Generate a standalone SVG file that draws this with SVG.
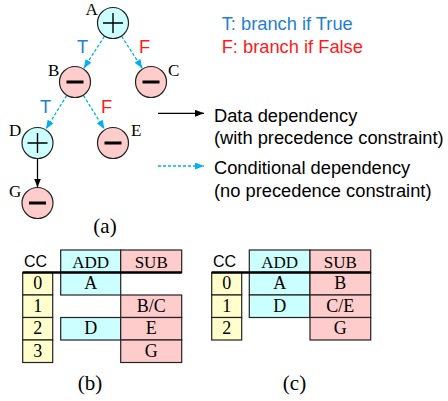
<svg xmlns="http://www.w3.org/2000/svg" width="448" height="401" viewBox="0 0 448 401">
  <style>
    .add { fill: #ccffff; stroke: #222; stroke-width: 1.2; }
    .sub { fill: #ffcccc; stroke: #222; stroke-width: 1.2; }
    .cc { fill: #ffffcc; stroke: #222; stroke-width: 1.2; }
    .sign { stroke: #000; stroke-width: 1.4; fill: none; }
    .bar { fill: #000; }
    .lbl { font-family: "Liberation Serif", "Times New Roman", serif; font-size: 17px; fill: #000; }
    .cap { font-family: "Liberation Serif", "Times New Roman", serif; font-size: 21px; fill: #000; text-anchor: middle; }
    .cell { font-family: "Liberation Serif", "Times New Roman", serif; font-size: 18px; fill: #000; text-anchor: middle; }
    .head { font-size: 17px; }
    .sans { font-family: "Liberation Sans", Arial, sans-serif; font-size: 18.3px; }
    .t { fill: #1f7fd0; }
    .f { fill: #ff1a1a; }
    .data { stroke: #000; stroke-width: 1.3; fill: none; }
    .cond { stroke: #00b0f0; stroke-width: 1.3; stroke-dasharray: 3 2; fill: none; }
    .thick { stroke: #000; stroke-width: 2.6; }
  </style>
  <defs>
    <marker id="headData" markerUnits="userSpaceOnUse" markerWidth="9" markerHeight="7" refX="9" refY="3.5" orient="auto">
      <path d="M0,0 L9,3.5 L0,7 Z" fill="#000"/>
    </marker>
    <marker id="headCond" markerUnits="userSpaceOnUse" markerWidth="9" markerHeight="7" refX="9" refY="3.5" orient="auto">
      <path d="M0,0 L9,3.5 L0,7 Z" fill="#00b0f0"/>
    </marker>
  </defs>

  <!-- (a) dependency graph -->
  <g id="connectors">
    <line class="cond" x1="104.3" y1="36.4" x2="83.7" y2="68.4" marker-end="url(#headCond)"/>
    <line class="cond" x1="121.7" y1="36.4" x2="142.3" y2="68.4" marker-end="url(#headCond)"/>
    <line class="cond" x1="66.6" y1="95.6" x2="45.9" y2="129.2" marker-end="url(#headCond)"/>
    <line class="cond" x1="83.5" y1="95.6" x2="104.5" y2="129.2" marker-end="url(#headCond)"/>
    <line class="data" x1="37.5" y1="158" x2="37.5" y2="187.5" marker-end="url(#headData)"/>
    <text class="sans t" x="77" y="53">T</text>
    <text class="sans f" x="139" y="53">F</text>
    <text class="sans t" x="40" y="113">T</text>
    <text class="sans f" x="101" y="113">F</text>
  </g>

  <g id="nodeA">
    <circle class="add" cx="113" cy="23" r="15.5"/>
    <path class="sign" d="M103,23 H123 M113,13 V33"/>
    <text class="lbl" x="85.5" y="15">A</text>
  </g>
  <g id="nodeB">
    <circle class="sub" cx="75" cy="82" r="15.5"/>
    <rect class="bar" x="66.5" y="80.5" width="17" height="3"/>
    <text class="lbl" x="48" y="76">B</text>
  </g>
  <g id="nodeC">
    <circle class="sub" cx="151" cy="82" r="15.5"/>
    <rect class="bar" x="142.5" y="80.5" width="17" height="3"/>
    <text class="lbl" x="168" y="76">C</text>
  </g>
  <g id="nodeD">
    <circle class="add" cx="37.5" cy="143" r="15.5"/>
    <path class="sign" d="M27.5,143 H47.5 M37.5,133 V153"/>
    <text class="lbl" x="9" y="136">D</text>
  </g>
  <g id="nodeE">
    <circle class="sub" cx="113" cy="143" r="15.5"/>
    <rect class="bar" x="104.5" y="141.5" width="17" height="3"/>
    <text class="lbl" x="131" y="136">E</text>
  </g>
  <g id="nodeG">
    <circle class="sub" cx="37.5" cy="203" r="15.5"/>
    <rect class="bar" x="29" y="201.5" width="17" height="3"/>
    <text class="lbl" x="9" y="197">G</text>
  </g>
  <text class="cap" x="105" y="233">(a)</text>

  <!-- legend -->
  <g id="legend">
    <text class="sans t" x="221.7" y="29.5">T: branch if True</text>
    <text class="sans f" x="221.7" y="52.5">F: branch if False</text>
    <line class="data" x1="158" y1="113.3" x2="204" y2="113.3" marker-end="url(#headData)"/>
    <text class="sans" x="214" y="121.5">Data dependency</text>
    <text class="sans" x="214" y="143.5">(with precedence constraint)</text>
    <line class="cond" x1="158" y1="166" x2="204" y2="166" marker-end="url(#headCond)"/>
    <text class="sans" x="214" y="174.3">Conditional dependency</text>
    <text class="sans" x="214" y="196.7">(no precedence constraint)</text>
  </g>

  <!-- (b) schedule -->
  <g id="tableB">
    <text class="sans" x="24" y="267" style="font-size:16px">CC</text>
    <rect class="add" x="60.7" y="250" width="60" height="22.5"/>
    <rect class="sub" x="120.7" y="250" width="61" height="22.5"/>
    <text class="cell head" x="90.7" y="268">ADD</text>
    <text class="cell head" x="151.2" y="268">SUB</text>
    <rect class="cc" x="22.7" y="272.5" width="30" height="22.5"/>
    <rect class="cc" x="22.7" y="295" width="30" height="22.5"/>
    <rect class="cc" x="22.7" y="317.5" width="30" height="22.5"/>
    <rect class="cc" x="22.7" y="340" width="30" height="22.5"/>
    <text class="cell" x="37.7" y="289">0</text>
    <text class="cell" x="37.7" y="311.5">1</text>
    <text class="cell" x="37.7" y="334">2</text>
    <text class="cell" x="37.7" y="356.5">3</text>
    <rect class="add" x="60.7" y="272.5" width="60" height="22.5"/>
    <text class="cell" x="90.7" y="289">A</text>
    <rect class="sub" x="120.7" y="295" width="61" height="22.5"/>
    <text class="cell" x="151.2" y="311.5">B/C</text>
    <rect class="add" x="60.7" y="317.5" width="60" height="22.5"/>
    <text class="cell" x="90.7" y="334">D</text>
    <rect class="sub" x="120.7" y="317.5" width="61" height="22.5"/>
    <text class="cell" x="151.2" y="334">E</text>
    <rect class="sub" x="120.7" y="340" width="61" height="22.5"/>
    <text class="cell" x="151.2" y="356.5">G</text>
    <line class="thick" x1="22.7" y1="272.5" x2="181.7" y2="272.5"/>
  </g>
  <text class="cap" x="90" y="390">(b)</text>

  <!-- (c) schedule -->
  <g id="tableC">
    <text class="sans" x="213" y="267" style="font-size:16px">CC</text>
    <rect class="add" x="249.3" y="250" width="60.7" height="22.5"/>
    <rect class="sub" x="310" y="250" width="60.7" height="22.5"/>
    <text class="cell head" x="279.7" y="268">ADD</text>
    <text class="cell head" x="340.3" y="268">SUB</text>
    <rect class="cc" x="211.7" y="272.5" width="30" height="22.5"/>
    <rect class="cc" x="211.7" y="295" width="30" height="22.5"/>
    <rect class="cc" x="211.7" y="317.5" width="30" height="22.5"/>
    <text class="cell" x="226.7" y="289">0</text>
    <text class="cell" x="226.7" y="311.5">1</text>
    <text class="cell" x="226.7" y="334">2</text>
    <rect class="add" x="249.3" y="272.5" width="60.7" height="22.5"/>
    <text class="cell" x="279.7" y="289">A</text>
    <rect class="add" x="249.3" y="295" width="60.7" height="22.5"/>
    <text class="cell" x="279.7" y="311.5">D</text>
    <rect class="sub" x="310" y="272.5" width="60.7" height="22.5"/>
    <text class="cell" x="340.3" y="289">B</text>
    <rect class="sub" x="310" y="295" width="60.7" height="22.5"/>
    <text class="cell" x="340.3" y="311.5">C/E</text>
    <rect class="sub" x="310" y="317.5" width="60.7" height="22.5"/>
    <text class="cell" x="340.3" y="334">G</text>
    <line class="thick" x1="211.7" y1="272.5" x2="370.7" y2="272.5"/>
  </g>
  <text class="cap" x="294.5" y="390">(c)</text>
</svg>
